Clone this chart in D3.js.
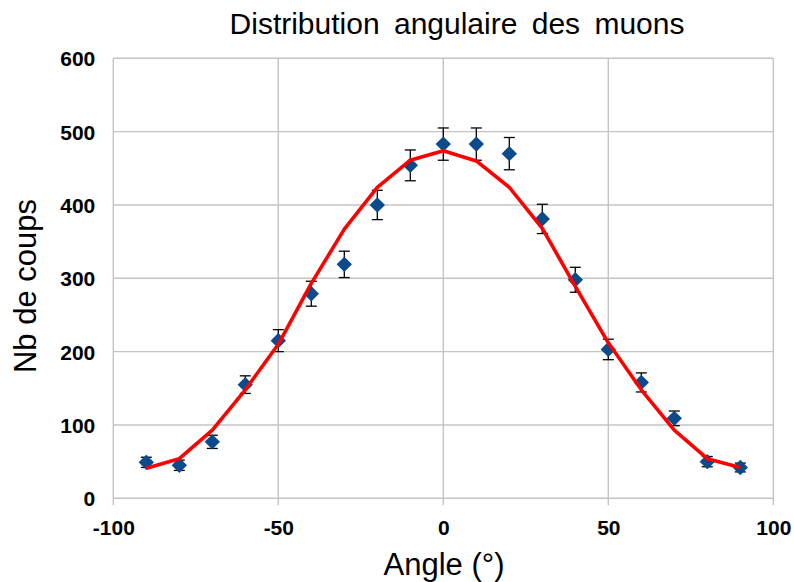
<!DOCTYPE html>
<html>
<head>
<meta charset="utf-8">
<script src="https://cdn.jsdelivr.net/npm/d3@7/dist/d3.min.js"></script>
<style>
  html, body { margin: 0; padding: 0; background: #ffffff; }
  svg { display: block; }
</style>
</head>
<body>
<svg id="chart" width="794" height="582"></svg>
<script>
// Measured muon counts per detector angle, with their statistical errors
const angles   = [-90, -80, -70, -60, -50, -40, -30, -20, -10, 0, 10, 20, 30, 40, 50, 60, 70, 80, 90];
const counts   = [49, 45, 77, 155, 215, 279, 319, 400, 454, 483, 483, 470, 381, 298, 203, 158, 109, 50, 42];
const errors   = [7, 7, 9, 12, 15, 17, 18, 20, 21, 22, 22, 22, 20, 17, 14, 13, 10, 7, 6];
// Fitted model evaluated at the same angles
const fitted   = [41, 54, 93, 148, 210, 293, 367, 424, 461, 474, 460, 424, 368, 289, 212, 148, 93, 54, 42];
const xTicks   = [-100, -50, 0, 50, 100];
const yTicks   = [0, 100, 200, 300, 400, 500, 600];

const svg = d3.select("#chart");
const plot = { left: 113.3, right: 773.3, top: 58.3, bottom: 498.3 };

const x = d3.scaleLinear().domain([-100, 100]).range([plot.left, plot.right]);
const y = d3.scaleLinear().domain([0, 600]).range([plot.bottom, plot.top]);

const gridColor = "#c4c4c4";
const fontFamily = "'Liberation Sans', Arial, sans-serif";

// Horizontal grid lines
svg.append("g")
  .selectAll("line")
  .data(yTicks)
  .join("line")
  .attr("x1", plot.left).attr("x2", plot.right)
  .attr("y1", d => y(d)).attr("y2", d => y(d))
  .attr("stroke", gridColor).attr("stroke-width", 1.4);

// Vertical grid lines (extend below the axis as tick marks)
svg.append("g")
  .selectAll("line")
  .data(xTicks)
  .join("line")
  .attr("x1", d => x(d)).attr("x2", d => x(d))
  .attr("y1", plot.top).attr("y2", plot.bottom + 7)
  .attr("stroke", gridColor).attr("stroke-width", 1.4);

// Axis tick labels (plain hyphen for negatives)
const plain = d => String(d);
const xAxis = d3.axisBottom(x).tickValues(xTicks).tickFormat(plain).tickSize(0).tickPadding(0);
const gx = svg.append("g").attr("transform", `translate(0,${plot.bottom})`).call(xAxis);
gx.select(".domain").remove();
gx.selectAll("text")
  .attr("y", 37).attr("dy", null)
  .attr("font-family", fontFamily)
  .attr("font-size", 21).attr("font-weight", "bold").attr("fill", "#000");

const yAxis = d3.axisLeft(y).tickValues(yTicks).tickFormat(plain).tickSize(0).tickPadding(0);
const gy = svg.append("g").attr("transform", `translate(${plot.left},0)`).call(yAxis);
gy.select(".domain").remove();
gy.selectAll("text")
  .attr("x", -18).attr("dy", "0.36em")
  .attr("font-family", fontFamily)
  .attr("font-size", 21).attr("font-weight", "bold").attr("fill", "#000");

const data = angles.map((a, i) => ({ a, c: counts[i], e: errors[i], f: fitted[i] }));

// Error bars
const eb = svg.append("g").attr("stroke", "#000").attr("stroke-width", 1.3);
eb.selectAll("line.v").data(data).join("line").attr("class", "v")
  .attr("x1", d => x(d.a)).attr("x2", d => x(d.a))
  .attr("y1", d => y(d.c - d.e)).attr("y2", d => y(d.c + d.e));
eb.selectAll("line.t").data(data).join("line").attr("class", "t")
  .attr("x1", d => x(d.a) - 5.5).attr("x2", d => x(d.a) + 5.5)
  .attr("y1", d => y(d.c + d.e)).attr("y2", d => y(d.c + d.e));
eb.selectAll("line.b").data(data).join("line").attr("class", "b")
  .attr("x1", d => x(d.a) - 5.5).attr("x2", d => x(d.a) + 5.5)
  .attr("y1", d => y(d.c - d.e)).attr("y2", d => y(d.c - d.e));

// Measured points as diamonds
const diamond = d3.symbol().type(d3.symbolSquare).size(118);
svg.append("g")
  .selectAll("path")
  .data(data)
  .join("path")
  .attr("d", diamond)
  .attr("transform", d => `translate(${x(d.a)},${y(d.c)}) rotate(45)`)
  .attr("fill", "#0b4a8b");

// Fitted curve
svg.append("path")
  .datum(data)
  .attr("d", d3.line().x(d => x(d.a)).y(d => y(d.f)))
  .attr("fill", "none")
  .attr("stroke", "#ff0000")
  .attr("stroke-width", 3.6)
  .attr("stroke-linejoin", "round");

// Titles
svg.append("text")
  .attr("x", 457).attr("y", 33.5)
  .attr("text-anchor", "middle")
  .attr("font-family", fontFamily)
  .attr("font-size", 30)
  .attr("word-spacing", 6)
  .text("Distribution angulaire des muons");

svg.append("text")
  .attr("x", 444).attr("y", 575)
  .attr("text-anchor", "middle")
  .attr("font-family", fontFamily)
  .attr("font-size", 31)
  .text("Angle (°)");

svg.append("text")
  .attr("transform", "translate(36,286) rotate(-90)")
  .attr("text-anchor", "middle")
  .attr("font-family", fontFamily)
  .attr("font-size", 31)
  .text("Nb de coups");
</script>
</body>
</html>
